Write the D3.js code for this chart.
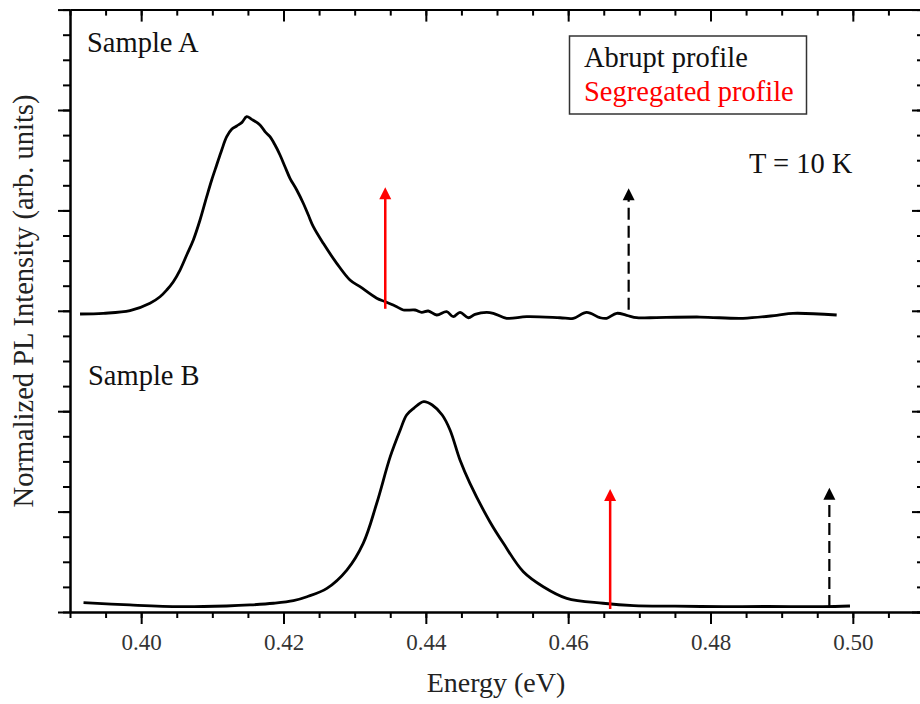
<!DOCTYPE html>
<html>
<head>
<meta charset="utf-8">
<script src="https://cdn.jsdelivr.net/npm/d3@7/dist/d3.min.js"></script>
<style>
  html, body { margin: 0; padding: 0; background: #fff; }
  svg { display: block; }
  text { font-family: "Liberation Serif", "Times New Roman", serif; }
</style>
</head>
<body>
<svg id="chart" width="920" height="704"></svg>
<script>
// ---- data ----
const sampleAEnergy = [0.39141,0.39468,0.39843,0.40124,0.40265,0.40359,0.40452,0.40546,0.40640,0.40733,0.40827,0.40921,0.40991,0.41061,0.41132,0.41202,0.41272,0.41342,0.41413,0.41483,0.41553,0.41670,0.41740,0.41810,0.41881,0.41951,0.42021,0.42091,0.42186,0.42278,0.42349,0.42419,0.42559,0.42748,0.42934,0.43075,0.43310,0.43426,0.43591,0.43683,0.43848,0.43942,0.44035,0.44153,0.44293,0.44386,0.44480,0.44597,0.44691,0.44855,0.44948,0.45136,0.45417,0.45885,0.46072,0.46260,0.46447,0.46541,0.46682,0.46822,0.46963,0.47150,0.47853,0.48457,0.48930,0.49159,0.49773];
const sampleAIntensity = [2.968,2.975,3.001,3.075,3.140,3.207,3.290,3.406,3.556,3.705,3.904,4.137,4.303,4.452,4.602,4.734,4.808,4.841,4.874,4.933,4.907,4.851,4.784,4.734,4.651,4.552,4.435,4.320,4.203,4.071,3.954,3.838,3.672,3.473,3.307,3.240,3.125,3.091,3.041,3.008,3.008,2.985,2.998,2.958,2.991,2.941,2.985,2.931,2.965,2.985,2.975,2.925,2.941,2.931,2.925,2.985,2.931,2.925,2.975,2.955,2.931,2.931,2.938,2.925,2.955,2.975,2.958];
const sampleBEnergy = [0.3919,0.3984,0.4055,0.4120,0.4153,0.4186,0.4214,0.4233,0.4261,0.4289,0.4312,0.4331,0.4350,0.4364,0.4373,0.4383,0.4397,0.4409,0.4423,0.4434,0.4448,0.4462,0.4490,0.4509,0.4537,0.4565,0.4598,0.4649,0.4692,0.4750,0.4818,0.4880,0.4958,0.4996];
const sampleBIntensity = [0.093,0.070,0.053,0.060,0.070,0.087,0.113,0.152,0.236,0.418,0.684,1.083,1.547,1.813,1.962,2.029,2.095,2.062,1.962,1.813,1.514,1.282,0.899,0.684,0.401,0.252,0.136,0.087,0.063,0.058,0.053,0.055,0.053,0.060];

// arrows: energy, base intensity, tip intensity
const arrowEnergy = [0.4343, 0.4685, 0.4659, 0.4967];
const arrowBase   = [3.02, 3.01, 0.03, 0.05];
const arrowTip    = [4.23, 4.22, 1.225, 1.238];
const arrowKind   = ["segregated", "abrupt", "segregated", "abrupt"];

const xMajorTicks = [0.40, 0.42, 0.44, 0.46, 0.48, 0.50];
const xTickLabels = ["0.40", "0.42", "0.44", "0.46", "0.48", "0.50"];
const yMajorTicks = [0, 1, 2, 3, 4, 5, 6];

const xTitle = "Energy (eV)";
const yTitle = "Normalized PL Intensity (arb. units)";
const sampleLabels = ["Sample A", "Sample B"];
const legendLabels = ["Abrupt profile", "Segregated profile"];
const tempLabel = "T = 10 K";

// ---- layout ----
const svg = d3.select("#chart");
const pLeft = 70, pRight = 924, pTop = 9.6, pBottom = 612;
const x = d3.scaleLinear().domain([0.39, 0.51]).range([pLeft, pRight]);
const y = d3.scaleLinear().domain([0, 6]).range([pBottom, pTop]);

const xMinor = d3.range(0.39, 0.5101, 0.005).map(v => +v.toFixed(3));
const yMinor = d3.range(0, 6.001, 0.25).map(v => +v.toFixed(2));

function styleAxis(g) {
  g.selectAll("path.domain").attr("stroke", "#000").attr("stroke-width", 2);
  g.selectAll(".tick line").attr("stroke", "#000").attr("stroke-width", 2);
}

// bottom axis
svg.append("g").attr("transform", `translate(0,${pBottom})`)
  .call(d3.axisBottom(x).tickValues(xMinor).tickSize(6).tickSizeOuter(0).tickFormat(""))
  .call(styleAxis);
const bAxis = svg.append("g").attr("transform", `translate(0,${pBottom})`)
  .call(d3.axisBottom(x).tickValues(xMajorTicks).tickSize(12).tickSizeOuter(0).tickPadding(10)
    .tickFormat((d, i) => xTickLabels[i]))
  .call(styleAxis);
bAxis.selectAll("text").attr("font-size", 23).attr("fill", "#333")
  .attr("font-family", "'Liberation Serif', serif");

// top axis (inward ticks)
svg.append("g").attr("transform", `translate(0,${pTop})`)
  .call(d3.axisTop(x).tickValues(xMinor).tickSize(-6).tickSizeOuter(0).tickFormat(""))
  .call(styleAxis);
svg.append("g").attr("transform", `translate(0,${pTop})`)
  .call(d3.axisTop(x).tickValues(xMajorTicks).tickSize(-12).tickSizeOuter(0).tickFormat(""))
  .call(styleAxis);

// left axis (outward ticks)
svg.append("g").attr("transform", `translate(${pLeft},0)`)
  .call(d3.axisLeft(y).tickValues(yMinor).tickSize(7).tickSizeOuter(0).tickFormat(""))
  .call(styleAxis);
svg.append("g").attr("transform", `translate(${pLeft},0)`)
  .call(d3.axisLeft(y).tickValues(yMajorTicks).tickSize(12).tickSizeOuter(0).tickFormat(""))
  .call(styleAxis);

// right axis (inward ticks)
svg.append("g").attr("transform", `translate(${pRight},0)`)
  .call(d3.axisRight(y).tickValues(yMinor).tickSize(-7).tickSizeOuter(0).tickFormat(""))
  .call(styleAxis);
svg.append("g").attr("transform", `translate(${pRight},0)`)
  .call(d3.axisRight(y).tickValues(yMajorTicks).tickSize(-12).tickSizeOuter(0).tickFormat(""))
  .call(styleAxis);

// ---- curves ----
const line = d3.line().x(d => x(d[0])).y(d => y(d[1])).curve(d3.curveCatmullRom.alpha(0.5));
const dataA = sampleAEnergy.map((e, i) => [e, sampleAIntensity[i]]);
const dataB = sampleBEnergy.map((e, i) => [e, sampleBIntensity[i]]);
svg.append("path").datum(dataA).attr("d", line)
  .attr("fill", "none").attr("stroke", "#000").attr("stroke-width", 2.8).attr("stroke-linejoin", "round");
svg.append("path").datum(dataB).attr("d", line)
  .attr("fill", "none").attr("stroke", "#000").attr("stroke-width", 2.8).attr("stroke-linejoin", "round");

// ---- arrows ----
const headH = 12, headW = 12;
arrowEnergy.forEach((e, i) => {
  const isSeg = arrowKind[i] === "segregated";
  const col = isSeg ? "#ff0000" : "#000";
  const ax = x(e), y0 = y(arrowBase[i]), y1 = y(arrowTip[i]);
  svg.append("line")
    .attr("x1", ax).attr("x2", ax).attr("y1", y0).attr("y2", y1 + headH - 1)
    .attr("stroke", col).attr("stroke-width", isSeg ? 2.5 : 2.2)
    .attr("stroke-dasharray", isSeg ? null : "12,6");
  svg.append("path")
    .attr("d", `M${ax},${y1} L${ax - headW / 2},${y1 + headH} L${ax + headW / 2},${y1 + headH} Z`)
    .attr("fill", col);
});

// ---- texts ----
const fs = 28.5;
svg.append("text").attr("x", 87).attr("y", 52).attr("font-size", fs).attr("fill", "#111").text(sampleLabels[0]);
svg.append("text").attr("x", 88).attr("y", 385).attr("font-size", fs).attr("fill", "#111").text(sampleLabels[1]);
svg.append("text").attr("x", 749).attr("y", 173).attr("font-size", fs).attr("fill", "#111").text(tempLabel);

// legend box
svg.append("rect").attr("x", 569.5).attr("y", 36).attr("width", 237).attr("height", 78)
  .attr("fill", "none").attr("stroke", "#333").attr("stroke-width", 1.5);
svg.append("text").attr("x", 584).attr("y", 67).attr("font-size", fs).attr("fill", "#111").text(legendLabels[0]);
svg.append("text").attr("x", 584).attr("y", 101).attr("font-size", fs).attr("fill", "#ff0000").text(legendLabels[1]);

// axis titles
svg.append("text").attr("x", (427 + 565) / 2).attr("y", 692).attr("text-anchor", "middle")
  .attr("font-size", 28).attr("fill", "#222").text(xTitle);
svg.append("text").attr("transform", `translate(33,301) rotate(-90)`).attr("text-anchor", "middle")
  .attr("font-size", 28.5).attr("fill", "#222").text(yTitle);
</script>
</body>
</html>
